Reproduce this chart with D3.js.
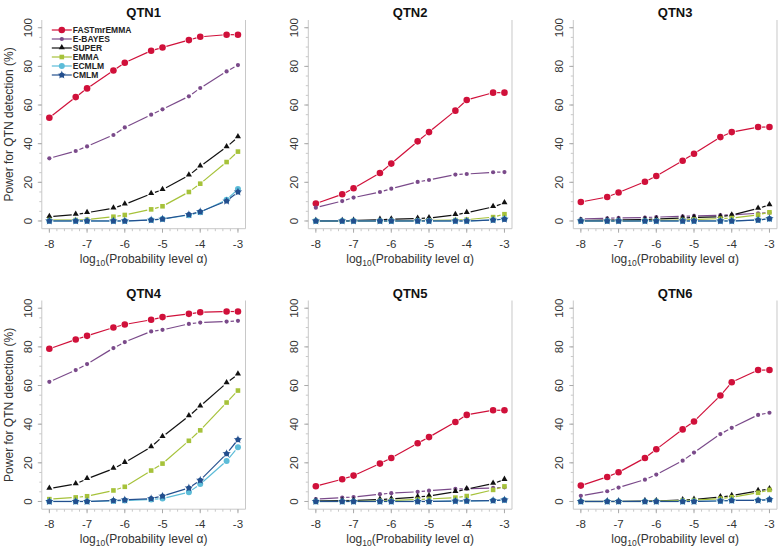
<!DOCTYPE html>
<html><head><meta charset="utf-8">
<script src="https://cdn.jsdelivr.net/npm/d3@7"></script>
<style>body{margin:0;background:#fff}svg{display:block}text{font-family:"Liberation Sans",Arial,sans-serif}</style>
</head><body>
<svg id="chart" width="782" height="547"></svg>
<script>
const xVals = [-8, -7.301, -7, -6.301, -6, -5.301, -5, -4.301, -4, -3.301, -3];
const xTicks = [-8, -7, -6, -5, -4, -3];
const yTicks = [0, 20, 40, 60, 80, 100];
const methods = ["FASTmrEMMA", "E-BAYES", "SUPER", "EMMA", "ECMLM", "CMLM"];
const panelTitles = ["QTN1", "QTN2", "QTN3", "QTN4", "QTN5", "QTN6"];

const qtn1 = {
  "FASTmrEMMA": [53.4, 64.1, 68.6, 77.9, 81.9, 88.1, 89.8, 93.6, 95.3, 96.4, 96.4],
  "E-BAYES":    [32.4, 36.2, 38.6, 44.5, 48.4, 55.0, 57.8, 64.5, 68.8, 77.4, 80.7],
  "SUPER":      [2.2, 3.3, 4.3, 6.6, 8.6, 14.1, 16.2, 23.6, 28.3, 38.3, 43.4],
  "EMMA":       [0.5, 0.5, 0.7, 2.2, 3.1, 6.0, 7.6, 15.0, 19.3, 30.5, 35.9],
  "ECMLM":      [0, 0, 0, 0, 0, 0.5, 1.0, 3.0, 4.5, 11.0, 16.5],
  "CMLM":       [0, 0, 0, 0, 0, 0.5, 1.0, 3.3, 4.8, 10.3, 15.0]
};
const qtn2 = {
  "FASTmrEMMA": [9.0, 13.8, 16.9, 24.8, 29.7, 41.2, 46.0, 57.1, 62.6, 66.4, 66.4],
  "E-BAYES":    [6.9, 10.3, 12.1, 15.0, 16.7, 20.2, 21.2, 24.0, 24.3, 25.2, 25.3],
  "SUPER":      [0, 0, 0.2, 0.7, 0.9, 1.3, 1.5, 3.2, 4.3, 7.3, 9.3],
  "EMMA":       [0, 0, 0, 0, 0, 0.2, 0.3, 0.5, 0.7, 2.0, 3.5],
  "ECMLM":      [0, 0, 0, 0, 0, 0, 0, 0, 0, 0.5, 1.0],
  "CMLM":       [0, 0, 0, 0, 0, 0, 0, 0, 0, 0.5, 0.9]
};
const qtn3 = {
  "FASTmrEMMA": [9.8, 12.4, 14.7, 20.3, 23.3, 31.2, 34.8, 43.4, 46.0, 48.6, 48.6],
  "E-BAYES":    [1.0, 1.4, 1.6, 1.8, 2.0, 2.4, 2.6, 3.0, 3.2, 4.0, 4.3],
  "SUPER":      [0.2, 0.5, 0.5, 0.8, 1.0, 1.5, 1.8, 2.2, 3.0, 6.5, 8.3],
  "EMMA":       [0, 0, 0, 0.2, 0.3, 0.5, 0.8, 1.2, 1.5, 3.2, 4.5],
  "ECMLM":      [0, 0, 0, 0, 0, 0, 0, 0, 0, 0.5, 1.2],
  "CMLM":       [0, 0, 0, 0, 0, 0, 0, 0, 0, 0.5, 1.2]
};
const qtn4 = {
  "FASTmrEMMA": [79.0, 83.8, 85.7, 90.0, 91.6, 94.0, 95.4, 97.1, 97.9, 98.3, 98.3],
  "E-BAYES":    [61.9, 68.0, 71.1, 79.4, 82.5, 88.0, 88.8, 91.9, 92.6, 93.1, 93.5],
  "SUPER":      [6.7, 9.1, 11.7, 17.0, 20.1, 28.2, 33.5, 44.2, 49.3, 61.3, 65.8],
  "EMMA":       [1.2, 2.1, 2.7, 5.7, 7.6, 16.0, 19.6, 31.4, 36.8, 51.2, 57.4],
  "ECMLM":      [0, 0, 0, 0.3, 0.5, 1.0, 1.5, 4.8, 9.0, 21.0, 28.0],
  "CMLM":       [0, 0, 0, 0.5, 0.8, 1.5, 2.8, 7.0, 11.0, 24.7, 32.0]
};
const qtn5 = {
  "FASTmrEMMA": [7.9, 11.5, 13.4, 19.6, 22.5, 30.1, 33.3, 41.1, 44.8, 47.2, 47.2],
  "E-BAYES":    [1.2, 2.0, 2.3, 3.8, 4.3, 5.0, 5.6, 6.5, 6.6, 7.0, 7.3],
  "SUPER":      [0.3, 0.5, 0.5, 1.0, 1.3, 2.3, 2.8, 5.0, 6.4, 9.3, 11.3],
  "EMMA":       [0, 0, 0, 0.3, 0.5, 1.0, 1.3, 2.0, 2.8, 6.0, 7.8],
  "ECMLM":      [0, 0, 0, 0, 0, 0, 0, 0.2, 0.3, 0.5, 0.8],
  "CMLM":       [0, 0, 0, 0, 0, 0, 0, 0.2, 0.3, 0.5, 0.8]
};
const qtn6 = {
  "FASTmrEMMA": [8.2, 12.7, 15.1, 22.5, 27.0, 37.3, 41.4, 54.8, 61.7, 68.0, 68.0],
  "E-BAYES":    [2.9, 5.3, 7.2, 11.3, 13.9, 21.1, 25.3, 34.9, 38.1, 44.8, 45.9],
  "SUPER":      [0, 0, 0, 0.2, 0.3, 0.8, 1.0, 2.3, 3.0, 5.5, 6.5],
  "EMMA":       [0, 0, 0, 0, 0.2, 0.5, 0.7, 1.5, 2.2, 4.5, 6.0],
  "ECMLM":      [0, 0, 0, 0, 0, 0, 0, 0.3, 0.5, 0.6, 1.0],
  "CMLM":       [0, 0, 0, 0, 0, 0, 0, 0.3, 0.5, 0.6, 1.0]
};
const panelData = [qtn1, qtn2, qtn3, qtn4, qtn5, qtn6];

const colors = {"FASTmrEMMA":"#d0103a","E-BAYES":"#7a4a8a","SUPER":"#111111","EMMA":"#a6c23a","ECMLM":"#5cbcd8","CMLM":"#234f8e"};

const svg = d3.select("#chart");
const colLeft = [41.8, 308.3, 573.3];
const rowTop = [20, 300.5];
const W = 203.7, H = 208.7;

const frameColor = "#c8c8c8", textColor = "#333";

function marker(g, m, cx, cy) {
  const c = colors[m];
  if (m === "FASTmrEMMA") g.append("circle").attr("cx",cx).attr("cy",cy).attr("r",3.3).attr("fill",c);
  else if (m === "E-BAYES") g.append("circle").attr("cx",cx).attr("cy",cy).attr("r",2.1).attr("fill",c);
  else if (m === "SUPER") g.append("path").attr("d", d3.symbol(d3.symbolTriangle, 16)()).attr("transform",`translate(${cx},${cy-0.5})`).attr("fill",c);
  else if (m === "EMMA") g.append("rect").attr("x",cx-2.3).attr("y",cy-2.3).attr("width",4.6).attr("height",4.6).attr("fill",c);
  else if (m === "ECMLM") g.append("circle").attr("cx",cx).attr("cy",cy).attr("r",3).attr("fill",c);
  else if (m === "CMLM") {
    g.append("circle").attr("cx",cx).attr("cy",cy).attr("r",2.5).attr("fill",c);
    g.append("path").attr("d", d3.symbol(d3.symbolStar, 22)()).attr("transform",`translate(${cx},${cy})`).attr("fill",c);
  }
}

function gappedLines(g, pts, color) {
  const gap = 4;
  for (let i = 0; i < pts.length - 1; i++) {
    const [x1,y1] = pts[i], [x2,y2] = pts[i+1];
    const dx = x2-x1, dy = y2-y1, L = Math.hypot(dx,dy);
    if (L <= 2*gap + 0.5) continue;
    const ux = dx/L, uy = dy/L;
    g.append("line").attr("x1",x1+ux*gap).attr("y1",y1+uy*gap).attr("x2",x2-ux*gap).attr("y2",y2-uy*gap)
      .attr("stroke",color).attr("stroke-width",1.2);
  }
}

panelData.forEach((data, p) => {
  const col = p % 3, row = Math.floor(p / 3);
  const g = svg.append("g").attr("transform",`translate(${colLeft[col]},${rowTop[row]})`);
  const x = d3.scaleLinear().domain([-8.2, -2.8]).range([0, W]);
  const y = d3.scaleLinear().domain([-4, 104]).range([H, 0]);

  g.append("path").attr("d",`M0,0V${H}H${W}V0`).attr("fill","none").attr("stroke",frameColor).attr("stroke-width",1);

  const xMinor = d3.range(-8, -2.99, 0.2);
  xMinor.forEach(v => g.append("line").attr("x1",x(v)).attr("x2",x(v)).attr("y1",H).attr("y2",H+2.5).attr("stroke",frameColor));
  xTicks.forEach(v => {
    g.append("line").attr("x1",x(v)).attr("x2",x(v)).attr("y1",H).attr("y2",H+4).attr("stroke","#aaa");
    g.append("text").attr("x",x(v)).attr("y",H+19).attr("text-anchor","middle").attr("font-size",11.5).attr("fill",textColor).text(v);
  });
  const yMinor = d3.range(0, 100.1, 5);
  yMinor.forEach(v => g.append("line").attr("y1",y(v)).attr("y2",y(v)).attr("x1",0).attr("x2",-2.5).attr("stroke",frameColor));
  yTicks.forEach(v => {
    g.append("line").attr("y1",y(v)).attr("y2",y(v)).attr("x1",0).attr("x2",-4).attr("stroke","#aaa");
    g.append("text").attr("transform",`translate(-10,${y(v)}) rotate(-90)`).attr("text-anchor","middle").attr("font-size",11.5).attr("fill",textColor).text(v);
  });

  g.append("text").attr("x",x(-5.5)).attr("y",-3).attr("text-anchor","middle").attr("font-size",13).attr("font-weight","bold").attr("fill","#111").text(panelTitles[p]);

  const xt = g.append("text").attr("x",x(-5.5)).attr("y",H+34).attr("text-anchor","middle").attr("font-size",12).attr("fill",textColor);
  xt.append("tspan").text("log");
  xt.append("tspan").attr("font-size",8.5).attr("dy",3).text("10");
  xt.append("tspan").attr("dy",-3).text("(Probability level α)");

  if (col === 0) {
    g.append("text").attr("transform",`translate(-29,${y(50)}) rotate(-90)`).attr("text-anchor","middle").attr("font-size",12).attr("fill",textColor).text("Power for QTN detection (%)");
  }

  methods.forEach(m => {
    const pts = xVals.map((xv,i) => [x(xv), y(data[m][i])]);
    gappedLines(g, pts, colors[m]);
    pts.forEach(([cx,cy]) => marker(g, m, cx, cy));
  });

  if (p === 0) {
    const lg = g.append("g").attr("transform","translate(10,10)");
    methods.forEach((m,i) => {
      const yy = i * 9;
      lg.append("line").attr("x1",0).attr("x2",20).attr("y1",yy).attr("y2",yy).attr("stroke",colors[m]).attr("stroke-width",1.2);
      marker(lg, m, 10, yy);
      lg.append("text").attr("x",21).attr("y",yy+3).attr("font-size",8.5).attr("font-weight","bold").attr("fill","#222").text(m);
    });
  }
});
</script>
</body></html>
